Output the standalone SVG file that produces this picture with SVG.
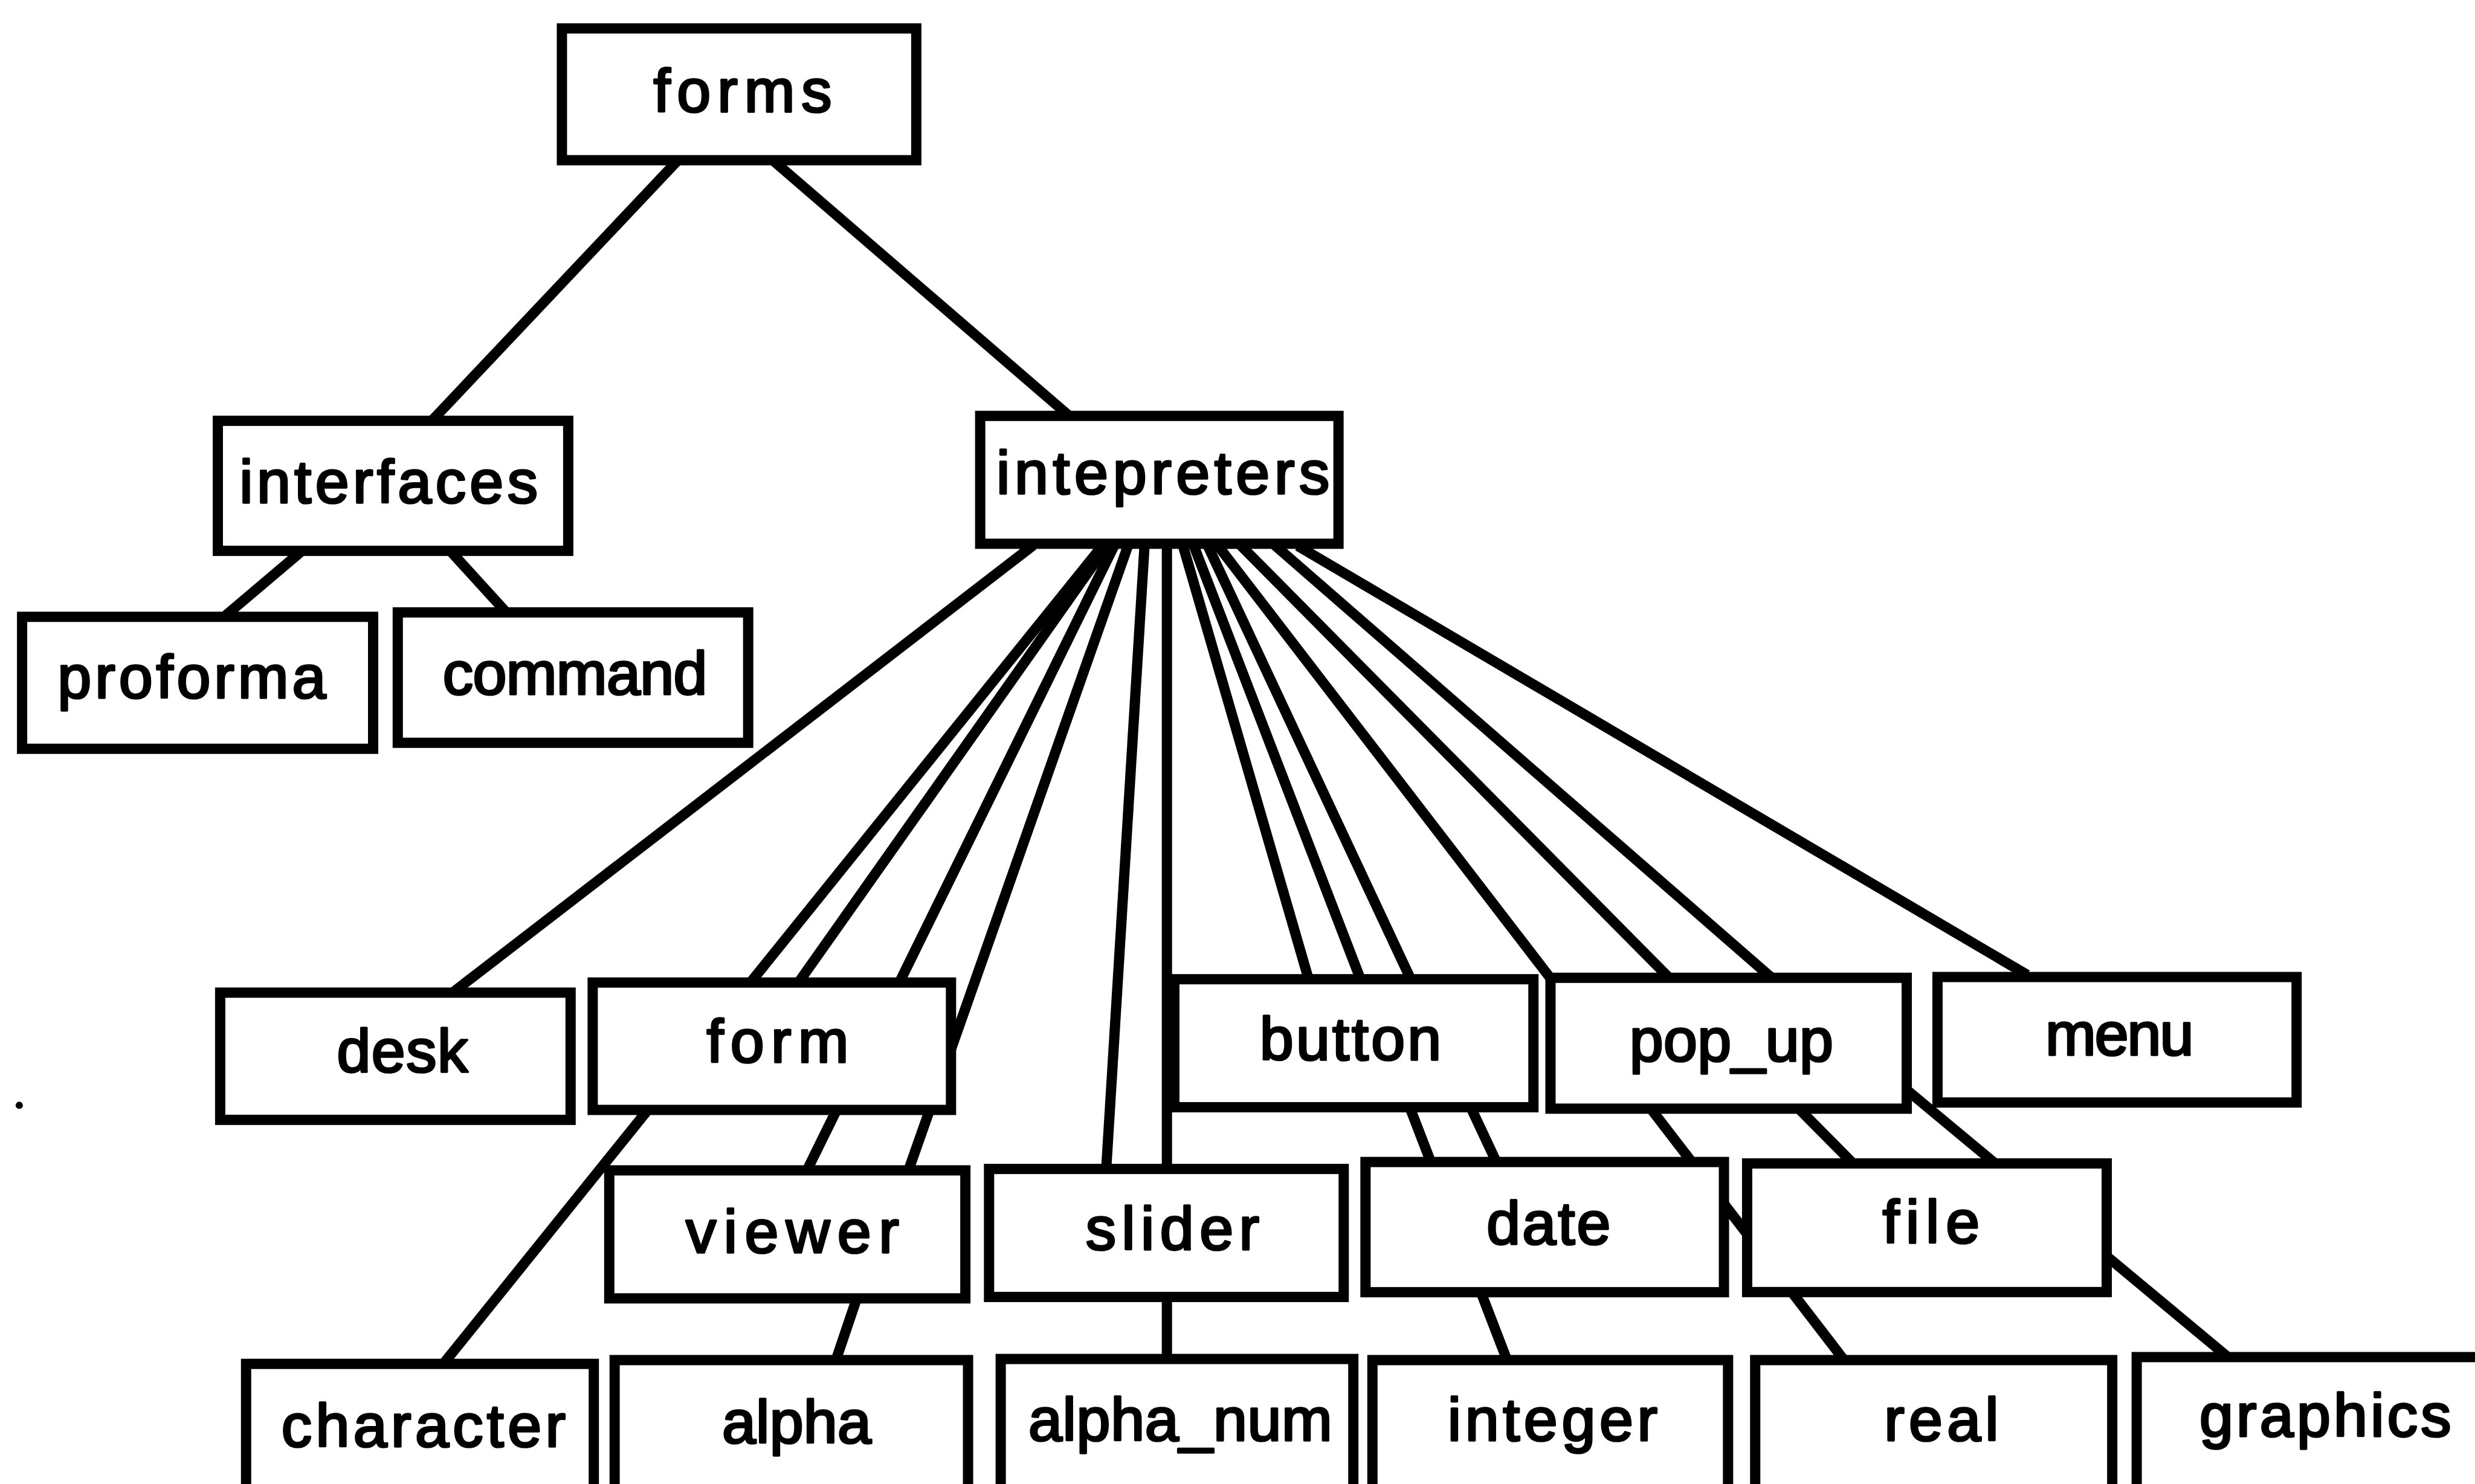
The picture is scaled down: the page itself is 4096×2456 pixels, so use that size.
<svg xmlns="http://www.w3.org/2000/svg" width="4096" height="2456" viewBox="0 0 4096 2456">
  <style>
    .box rect { fill: #fff; stroke: #000; stroke-width: 6.5; }
    .box text { font-family: "Liberation Sans", Arial, Helvetica, sans-serif; font-weight: 400; font-size: 38.5px; fill: #000; stroke: #000; stroke-width: 1.4; stroke-linejoin: round; text-anchor: middle; }
    #connectors line, #connectors polyline { stroke: #000; stroke-width: 6.5; fill: none; stroke-linecap: square; }
  </style>
  <rect width="4096" height="2456" fill="#fff"/>
  <g transform="scale(2.6122)">
    <!-- tree edges; boxes are painted over them -->
    <g id="connectors">
      <line x1="426.7" y1="104.5" x2="276" y2="264"/>
      <line x1="493" y1="104.5" x2="674.5" y2="261"/>
      <line x1="187.8" y1="352" x2="145.3" y2="388"/>
      <line x1="288" y1="352" x2="318.5" y2="385.5"/>
      <line x1="652" y1="347.5" x2="290.5" y2="626"/>
      <line x1="697" y1="347.5" x2="283" y2="861.4"/>
      <line x1="700" y1="347.5" x2="508" y2="619.5"/>
      <line x1="705" y1="347.5" x2="512.7" y2="738.5"/>
      <line x1="714" y1="347.5" x2="576.6" y2="738.5"/>
      <line x1="725" y1="347.5" x2="701" y2="738"/>
      <line x1="739.3" y1="347.5" x2="739.3" y2="859"/>
      <line x1="750" y1="347.5" x2="828.2" y2="617.4"/>
      <line x1="757" y1="347.5" x2="953.6" y2="858.7"/>
      <line x1="766" y1="347.5" x2="946.6" y2="733.2"/>
      <line x1="773" y1="347.5" x2="1166" y2="858.7"/>
      <line x1="788" y1="347.5" x2="1171" y2="734.1"/>
      <polyline points="810,347.5 1119,616.5 1409,857.7"/>
      <line x1="825" y1="347.5" x2="1281.5" y2="616"/>
      <line x1="542" y1="825" x2="530.5" y2="859"/>
    </g>

    <g id="node-forms" class="box"><rect x="356" y="18" width="224.5" height="83.5"/><text x="470.5" y="71" textLength="113" lengthAdjust="spacing">forms</text></g>
    <g id="node-interfaces" class="box"><rect x="138" y="266.6" width="222" height="82.4"/><text x="246.2" y="318.5" textLength="189" lengthAdjust="spacing">interfaces</text></g>
    <g id="node-intepreters" class="box"><rect x="621" y="263.5" width="227" height="81"/><text x="736.8" y="312.6" textLength="211" lengthAdjust="spacing">intepreters</text></g>
    <g id="node-proforma" class="box"><rect x="14" y="390.8" width="222.4" height="83.6"/><text x="121.5" y="442" textLength="170" lengthAdjust="spacing">proforma</text></g>
    <g id="node-command" class="box"><rect x="252" y="388" width="222" height="82.6"/><text x="364.3" y="439.8" textLength="167.5" lengthAdjust="spacing">command</text></g>
    <g id="node-desk" class="box"><rect x="139.5" y="628.9" width="222" height="80.6"/><text x="254.9" y="679" textLength="83" lengthAdjust="spacing">desk</text></g>
    <g id="node-form" class="box"><rect x="375.5" y="622.5" width="227" height="80.7"/><text x="492.7" y="673" textLength="90" lengthAdjust="spacing">form</text></g>
    <g id="node-button" class="box"><rect x="744" y="620.4" width="227.5" height="81.1"/><text x="855.6" y="671.4" textLength="115" lengthAdjust="spacing">button</text></g>
    <g id="node-pop_up" class="box"><rect x="982.3" y="619.5" width="225.7" height="82.9"/><text x="1096.9" y="672.3" textLength="129" lengthAdjust="spacing">pop_up</text></g>
    <g id="node-menu" class="box"><rect x="1227.5" y="619" width="227.5" height="79.5"/><text x="1342.8" y="668.4" textLength="94" lengthAdjust="spacing">menu</text></g>
    <g id="node-viewer" class="box"><rect x="386" y="741.5" width="225.6" height="81.1"/><text x="502" y="793.5" textLength="135" lengthAdjust="spacing">viewer</text></g>
    <g id="node-slider" class="box"><rect x="626.6" y="740.6" width="224.7" height="81.1"/><text x="742.8" y="791.6" textLength="110" lengthAdjust="spacing">slider</text></g>
    <g id="node-date" class="box"><rect x="865.1" y="736.2" width="227.1" height="82.5"/><text x="981.1" y="788.1" textLength="78.5" lengthAdjust="spacing">date</text></g>
    <g id="node-file" class="box"><rect x="1106.9" y="737.1" width="227.8" height="81.5"/><text x="1223.4" y="787.5" textLength="61.5" lengthAdjust="spacing">file</text></g>
    <g id="node-character" class="box"><rect x="155.9" y="864.1" width="220.3" height="100"/><text x="268.3" y="916.5" textLength="180" lengthAdjust="spacing">character</text></g>
    <g id="node-alpha" class="box"><rect x="389.4" y="861.7" width="223.9" height="100"/><text x="504.7" y="914" textLength="94.5" lengthAdjust="spacing">alpha</text></g>
    <g id="node-alpha_num" class="box"><rect x="634" y="861" width="223.4" height="100"/><text x="747.8" y="912.6" textLength="192.5" lengthAdjust="spacing">alpha_num</text></g>
    <g id="node-integer" class="box"><rect x="869.5" y="861.7" width="225.3" height="100"/><text x="983.6" y="912.6" textLength="133" lengthAdjust="spacing">integer</text></g>
    <g id="node-real" class="box"><rect x="1112" y="861.7" width="226.2" height="100"/><text x="1230" y="912.6" textLength="72.5" lengthAdjust="spacing">real</text></g>
    <g id="node-graphics" class="box"><rect x="1353.7" y="859.8" width="250" height="100"/><text x="1473.2" y="909.9" textLength="159.5" lengthAdjust="spacing">graphics</text></g>

    <circle cx="12.2" cy="700.3" r="2.3" fill="#000"/>
  </g>
</svg>
